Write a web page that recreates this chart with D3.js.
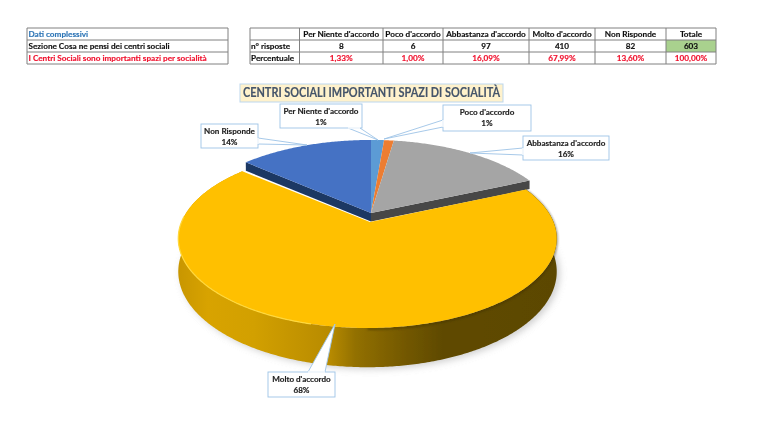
<!DOCTYPE html>
<html><head><meta charset="utf-8">
<script src="https://cdn.jsdelivr.net/npm/d3@7/dist/d3.min.js"></script>
<style>html,body{margin:0;padding:0;background:#fff}svg{display:block;font-family:Lato,"Open Sans",sans-serif}</style>
</head><body><svg id="c" width="768" height="432"></svg>
<script>
const categories = ["Per Niente d'accordo","Poco d'accordo","Abbastanza d'accordo","Molto d'accordo","Non Risponde"];
const counts = [8,6,97,410,82];
const percentText = ["1,33%","1,00%","16,09%","67,99%","13,60%"];
const totalCount = 603;
const totalPercent = "100,00%";
const sharePercent = [1.33,1.00,16.09,67.99,13.60];
const sliceColors = ["#5B9BD5","#ED7D31","#A5A5A5","#FFC000","#4472C4"];
const wallColors = ["#2f5f8f","#8a4a1c","#474747","#7f6000","#1F3864"];
const titleText = "CENTRI SOCIALI IMPORTANTI SPAZI DI SOCIALITÀ";

const svg = d3.select("#c");
const defs = svg.append("defs");
defs.append("filter").attr("id","soft").append("feGaussianBlur").attr("stdDeviation",0.3);
defs.append("filter").attr("id","shadow").attr("x","-20%").attr("y","-20%").attr("width","140%").attr("height","140%")
  .append("feGaussianBlur").attr("stdDeviation",3.5);
defs.append("filter").attr("id","rimblur").append("feGaussianBlur").attr("stdDeviation",1.2);
const grad = defs.append("linearGradient").attr("id","side").attr("gradientUnits","userSpaceOnUse")
  .attr("x1",178).attr("x2",556).attr("y1",0).attr("y2",0);
[[0,"#c89600"],[0.08,"#d8a300"],[0.2,"#d2a000"],[0.4,"#b88b00"],[0.47,"#927000"],[0.6,"#735800"],[0.7,"#5f4a00"],[1,"#5c4700"]]
  .forEach(([o,c])=>grad.append("stop").attr("offset",o).attr("stop-color",c));

/* ---------- tables ---------- */
const tbl = svg.append("g").attr("filter","url(#soft)");
const rowY = d3.scaleOrdinal().domain([0,1,2,3]).range([28,40,52,64]);
const lineC = "#808080";
function cellText(x,row,t,o){
  const f=o.fill||"#111";
  tbl.append("text").attr("x",x).attr("y",rowY(row)+9.3).attr("text-anchor",o.anchor||"start")
    .attr("font-size",8.2).attr("font-weight",700).attr("fill",f).attr("stroke",f).attr("stroke-width",0.15).text(t);
}
const colX = [250,299.5,383,443,529,595,666,716];
tbl.append("rect").attr("x",666).attr("y",40).attr("width",50).attr("height",12).attr("fill","#A9D18E");
function hl(x1,x2,y){tbl.append("line").attr("x1",x1).attr("x2",x2).attr("y1",y).attr("y2",y).attr("stroke",lineC).attr("stroke-width",1)}
function vl(x,y1,y2){tbl.append("line").attr("x1",x).attr("x2",x).attr("y1",y1).attr("y2",y2).attr("stroke",lineC).attr("stroke-width",1)}
[28,40,52,64].forEach(y=>{hl(27,228,y);hl(250,716,y)});
vl(27,28,64);vl(228,28,64);
colX.forEach(x=>vl(x,28,64));
cellText(28.5,0,"Dati complessivi",{fill:"#2E75B6"});
cellText(28.5,1,"Sezione  Cosa ne pensi dei centri sociali",{});
cellText(28.5,2,"I Centri Sociali sono importanti spazi per socialità",{fill:"#F0142F"});
cellText(251,1,"n° risposte",{});
cellText(251,2,"Percentuale",{});
categories.forEach((c,i)=>{
  const mid=(colX[i+1]+colX[i+2])/2;
  cellText(mid,0,c,{anchor:"middle"});
  cellText(mid,1,counts[i],{anchor:"middle"});
  cellText(mid,2,percentText[i],{anchor:"middle",fill:"#F0142F"});
});
cellText(691,0,"Totale",{anchor:"middle"});
cellText(691,1,totalCount,{anchor:"middle"});
cellText(691,2,totalPercent,{anchor:"middle",fill:"#F0142F"});

/* ---------- 3D pie ---------- */
const R=186,K=86.5,P=0.184,DEPTH=32;
const pieLayout=d3.pie().sort(null).value(d=>d)(counts);
const persp=v=>1/(1-P*v);
function proj(a,r,cx,cy,dz){
  const u=Math.sin(a)*r,v=-Math.cos(a)*r,s=persp(v);
  return [cx+R*u*s, cy+K*v*s+(dz||0)*s];
}
const line=d3.line();
function arcPts(a0,a1,cx,cy,dz){
  const n=Math.max(2,Math.ceil((a1-a0)/0.01));
  return d3.range(n+1).map(i=>proj(a0+(a1-a0)*i/n,1,cx,cy,dz));
}
const MAIN=3, backC=[371,213], frontC=[367.5,222], apex=[370,222];
const pieG=svg.append("g").attr("filter","url(#soft)");
const mainS=pieLayout[MAIN];
const frontStart=mainS.startAngle,frontEnd=mainS.endAngle;

// shadow beneath
pieG.append("path")
  .attr("d",line(arcPts(Math.PI*0.45,Math.PI*1.55,frontC[0]+3,frontC[1]+2,DEPTH))+"Z")
  .attr("fill","#b0b0b0").attr("opacity",0.6).attr("filter","url(#shadow)");

// back slices: walls then top faces
[2,4].forEach(i=>{
  const s=pieLayout[i],a=i===2?s.endAngle:s.startAngle;
  const tip=proj(a,1,backC[0],backC[1]),c=backC,d=8.5;
  pieG.append("path").attr("d",line([c,tip,[tip[0],tip[1]+d],[c[0],c[1]+d]])+"Z").attr("fill",wallColors[i]);
});
pieLayout.forEach((s,i)=>{
  if(i===MAIN)return;
  pieG.append("path").attr("d",line([backC,...arcPts(s.startAngle,s.endAngle,backC[0],backC[1])])+"Z")
    .attr("fill",sliceColors[i]);
});
// main slice wall, rim shading and top
const rim=arcPts(frontStart,frontEnd,frontC[0],frontC[1]);
const rimLow=arcPts(frontStart,frontEnd,frontC[0],frontC[1],DEPTH).reverse();
pieG.append("path").attr("d",line([...rim,...rimLow])+"Z").attr("fill","url(#side)");
pieG.append("path").attr("d",line(arcPts(frontStart,Math.PI*1.0,frontC[0],frontC[1]+1))).attr("fill","none")
  .attr("stroke","#3d2f00").attr("stroke-width",2).attr("opacity",0.55).attr("filter","url(#rimblur)");
pieG.append("path").attr("d",line([apex,...rim])+"Z").attr("fill",sliceColors[MAIN]);
pieG.append("path").attr("d",line(arcPts(Math.PI*1.08,Math.PI*1.52,frontC[0],frontC[1]))).attr("fill","none")
  .attr("stroke","#ffd83d").attr("stroke-width",1.2);

/* ---------- title ---------- */
const lab=svg.append("g").attr("filter","url(#soft)");
lab.append("rect").attr("x",240).attr("y",84).attr("width",263).attr("height",18)
  .attr("fill","#FFF2CC").attr("stroke","#BDD7EE").attr("stroke-width",1);
lab.append("text").attr("x",243).attr("y",97.3).attr("font-size",12.6)
  .attr("textLength",257).attr("lengthAdjust","spacingAndGlyphs")
  .attr("font-weight",700).attr("fill","#44546A").attr("stroke","#44546A").attr("stroke-width",0.15).text(titleText);

/* ---------- callouts ---------- */
const callouts=[
 {i:0,x:280,y:104,w:82,h:24,wedge:[[348,128],[378,140],[360,128]]},
 {i:1,x:443,y:105,w:88,h:26,wedge:[[443,120],[384,139],[443,127]]},
 {i:2,x:523,y:136,w:86,h:24,wedge:[[523,148],[470,153],[523,155]]},
 {i:3,x:268,y:372,w:67,h:25,wedge:[[308,372],[335,324],[325,372]]},
 {i:4,x:201,y:124,w:57,h:24,wedge:[[258,138],[307,145],[258,144]]}
];
const fmt=d3.format(".0f");
callouts.forEach(c=>{
  const [p0,tip,p1]=c.wedge;
  lab.append("path").attr("d",line([p0,tip,p1])).attr("fill","#fff").attr("stroke","#9DC3E6").attr("stroke-width",0.9);
  lab.append("rect").attr("x",c.x).attr("y",c.y).attr("width",c.w).attr("height",c.h)
    .attr("fill","#fff").attr("stroke","#9DC3E6").attr("stroke-width",0.9);
  lab.append("path").attr("d",line([p0,p1])).attr("stroke","#fff").attr("stroke-width",1.4).attr("fill","none");
  const t=lab.append("text").attr("text-anchor","middle").attr("font-size",8.1).attr("font-weight",700)
    .attr("fill","#222").attr("stroke","#222").attr("stroke-width",0.15);
  t.append("tspan").attr("x",c.x+c.w/2).attr("y",c.y+10).text(categories[c.i]);
  t.append("tspan").attr("x",c.x+c.w/2).attr("y",c.y+20.5).text(fmt(sharePercent[c.i])+"%");
});
</script></body></html>
